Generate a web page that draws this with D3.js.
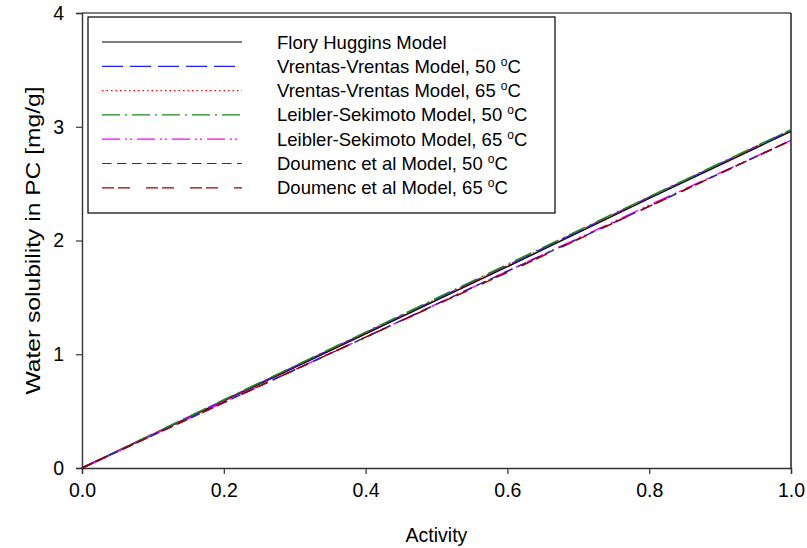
<!DOCTYPE html>
<html>
<head>
<meta charset="utf-8">
<script src="https://cdn.jsdelivr.net/npm/d3@7/dist/d3.min.js"></script>
<style>
  html, body { margin: 0; padding: 0; background: #fff; }
  svg { display: block; font-family: "Liberation Sans", Arial, sans-serif; }
</style>
</head>
<body>
<div id="chart"></div>
<script>
// activity values where the curves were read
const activity = [0, 0.2, 0.4, 0.6, 0.8, 1.0];

const floryHuggins = [0, 0.59, 1.18, 1.77, 2.37, 2.96];
const vrentas50 = [0, 0.595, 1.19, 1.78, 2.38, 2.97];
const vrentas65 = [0, 0.595, 1.19, 1.78, 2.38, 2.97];
const leibler50 = [0, 0.60, 1.195, 1.79, 2.385, 2.975];
const leibler65 = [0, 0.58, 1.15, 1.73, 2.31, 2.88];
const doumenc50 = [0, 0.575, 1.15, 1.73, 2.30, 2.88];
const doumenc65 = [0, 0.575, 1.15, 1.72, 2.30, 2.88];

const seriesNames = [
  'Flory Huggins Model',
  'Vrentas-Vrentas Model, 50 \u00B0C',
  'Vrentas-Vrentas Model, 65 \u00B0C',
  'Leibler-Sekimoto Model, 50 \u00B0C',
  'Leibler-Sekimoto Model, 65 \u00B0C',
  'Doumenc et al Model, 50 \u00B0C',
  'Doumenc et al Model, 65 \u00B0C'
];
const seriesValues = [floryHuggins, vrentas50, vrentas65, leibler50, leibler65, doumenc50, doumenc65];

const xTicks = [0, 0.2, 0.4, 0.6, 0.8, 1.0];
const yTicks = [0, 1, 2, 3, 4];

// line styles, same order as the series
const styles = [
  { color: '#000000', dash: null },
  { color: '#1f1fff', dash: '21,7' },
  { color: '#ff0000', dash: '1.5,3' },
  { color: '#1a8c1a', dash: '18,5,2,5' },
  { color: '#ff00ff', dash: '18,5,2,3,2,5' },
  { color: '#2626aa', dash: '9.5,5.5' },
  { color: '#990000', dash: '12,4,12,16' }
];

const width = 807;
const height = 548;
const plot = { left: 82, right: 791, top: 13, bottom: 468 };

const svg = d3.select('#chart')
  .append('svg')
  .attr('width', width)
  .attr('height', height);

const x = d3.scaleLinear().domain([0, 1]).range([plot.left, plot.right]);
const y = d3.scaleLinear().domain([0, 4]).range([plot.bottom, plot.top]);

// frame: top and right edges
svg.append('line')
  .attr('x1', plot.left).attr('x2', plot.right)
  .attr('y1', plot.top).attr('y2', plot.top)
  .attr('stroke', '#555').attr('stroke-width', 1.6);
svg.append('line')
  .attr('x1', plot.right).attr('x2', plot.right)
  .attr('y1', plot.top).attr('y2', plot.bottom)
  .attr('stroke', '#000').attr('stroke-width', 1.3);

// data lines
const line = d3.line()
  .x((d, i) => x(activity[i]))
  .y(d => y(d));

svg.append('g')
  .selectAll('path')
  .data(seriesValues)
  .enter()
  .append('path')
  .attr('d', line)
  .attr('fill', 'none')
  .attr('stroke', (d, i) => styles[i].color)
  .attr('stroke-width', 1.5)
  .attr('stroke-dasharray', (d, i) => styles[i].dash);

// axes
const xAxis = svg.append('g')
  .attr('transform', `translate(0,${plot.bottom})`)
  .call(d3.axisBottom(x).tickValues(xTicks).tickFormat(d3.format('.1f')).tickSizeOuter(0).tickSize(6).tickPadding(9));
const yAxis = svg.append('g')
  .attr('transform', `translate(${plot.left},0)`)
  .call(d3.axisLeft(y).tickValues(yTicks).tickFormat(d3.format('d')).tickSizeOuter(0).tickSize(6).tickPadding(12));

[xAxis, yAxis].forEach(a => {
  a.select('.domain').attr('stroke', '#333').attr('stroke-width', 1.4);
  a.selectAll('.tick line').attr('stroke', '#333').attr('stroke-width', 1.2);
  a.selectAll('.tick text')
    .attr('fill', '#000')
    .style('font-size', '19.5px')
    .style('font-family', '"Liberation Sans", Arial, sans-serif');
});

// axis titles
svg.append('text')
  .attr('x', (plot.left + plot.right) / 2)
  .attr('y', 542)
  .attr('text-anchor', 'middle')
  .style('font-size', '19.5px')
  .text('Activity');

svg.append('text')
  .attr('transform', `translate(40,${(plot.top + plot.bottom) / 2}) rotate(-90)`)
  .attr('text-anchor', 'middle')
  .attr('textLength', 308)
  .attr('lengthAdjust', 'spacingAndGlyphs')
  .style('font-size', '19.5px')
  .text('Water solubility in PC [mg/g]');

// legend
const legend = svg.append('g');
legend.append('rect')
  .attr('x', 88).attr('y', 17)
  .attr('width', 467).attr('height', 196)
  .attr('fill', '#fff')
  .attr('stroke', '#000')
  .attr('stroke-width', 1.2);

const rowY = i => 42 + i * 24.3;

legend.selectAll('line.key')
  .data(styles)
  .enter()
  .append('line')
  .attr('class', 'key')
  .attr('x1', 102).attr('x2', 242)
  .attr('y1', (d, i) => rowY(i)).attr('y2', (d, i) => rowY(i))
  .attr('stroke', d => d.color)
  .attr('stroke-width', 1.2)
  .attr('stroke-dasharray', d => d.dash);

legend.selectAll('text.label')
  .data(seriesNames)
  .enter()
  .append('text')
  .attr('class', 'label')
  .attr('x', 277)
  .attr('y', (d, i) => rowY(i) + 6.5)
  .style('font-size', '18.5px')
  .each(function (d) {
    const t = d3.select(this);
    const m = d.match(/^(.*?)(\u00B0)(C)$/);
    if (m) {
      t.append('tspan').text(m[1]);
      t.append('tspan').attr('dy', -7).style('font-size', '12px').text('o');
      t.append('tspan').attr('dy', 7).text('C');
    } else {
      t.text(d);
    }
  });
</script>
</body>
</html>
